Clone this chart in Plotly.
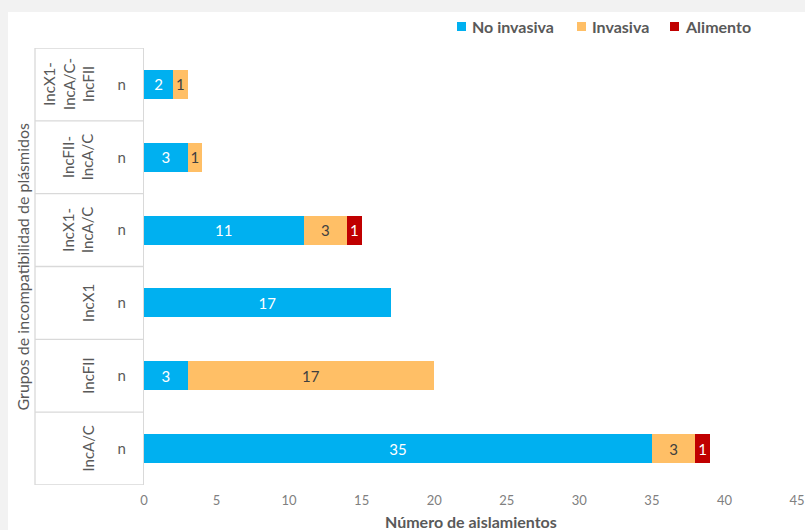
import plotly.graph_objects as go

# Data (bottom to top, as Plotly draws horizontal categories)
groups = ["IncA/C", "IncFII", "IncX1", "IncX1-IncA/C", "IncFII-IncA/C", "IncX1-IncA/C-IncFII"]
group_labels = ["IncA/C", "IncFII", "IncX1", "IncX1-<br>IncA/C", "IncFII-<br>IncA/C", "IncX1-<br>IncA/C-<br>IncFII"]
no_invasiva = [35, 3, 17, 11, 3, 2]
invasiva = [3, 17, None, 3, 1, 1]
alimento = [1, None, None, 1, None, None]
x_ticks = [0, 5, 10, 15, 20, 25, 30, 35, 40, 45]
series_names = ["No invasiva", "Invasiva", "Alimento"]
series_colors = ["#00B0F0", "#FFBF66", "#C00000"]
label_colors = ["white", "#404040", "white"]

FONT = "Lato"
GREY = "#595959"

# Layout geometry (pixels)
W, H = 805, 530
L, R, T, B = 144, 797, 48, 485
pw, ph = R - L, B - T

def px_x(p):
    return (p - L) / pw

def px_y(p):
    return (B - p) / ph

fig = go.Figure()
for name, vals, color, tcol in zip(series_names, [no_invasiva, invasiva, alimento],
                                   series_colors, label_colors):
    fig.add_trace(go.Bar(
        name=name, y=groups, x=vals, orientation="h",
        marker=dict(color=color, line=dict(width=0)),
        text=[str(v) if v else "" for v in vals],
        textposition="inside", insidetextanchor="middle",
        textfont=dict(family=FONT, size=15, color=tcol),
        constraintext="none", cliponaxis=False, showlegend=False,
    ))

shapes = [
    # grey page frame + white chart area
    dict(type="rect", xref="paper", yref="paper", x0=px_x(8), x1=px_x(W + 5),
         y0=px_y(H + 5), y1=px_y(12), fillcolor="white", line=dict(width=0), layer="below"),
    # outer vertical of label table
    dict(type="line", xref="paper", yref="paper", x0=px_x(35), x1=px_x(35),
         y0=0, y1=1, line=dict(color="#D9D9D9", width=1.3)),
]
for i in range(len(groups) + 1):
    yv = i - 0.5
    shapes.append(dict(type="line", xref="paper", yref="y", x0=px_x(35), x1=0,
                       y0=yv, y1=yv, line=dict(color="#D9D9D9", width=1.3)))

annotations = []
for g, lab in zip(groups, group_labels):
    annotations.append(dict(
        xref="paper", yref="y", x=px_x(99), y=g, text=lab, showarrow=False,
        textangle=-90, xanchor="right", yanchor="middle", align="center",
        font=dict(family=FONT, size=15, color=GREY),
    ))
annotations.append(dict(
    xref="paper", yref="paper", x=px_x(22), y=0.5, text="Grupos de incompatibilidad de plásmidos",
    showarrow=False, textangle=-90, xanchor="center", yanchor="middle",
    font=dict(family=FONT, size=16, color=GREY),
))
annotations.append(dict(
    xref="paper", yref="paper", x=0.5, y=px_y(521), text="<b>Número de aislamientos</b>",
    showarrow=False, xanchor="center", yanchor="middle",
    font=dict(family=FONT, size=16, color=GREY),
))

# legend (square swatches + labels)
legend_sq_left = [457, 577, 670]
for name, color, x0 in zip(series_names, series_colors, legend_sq_left):
    shapes.append(dict(type="rect", xref="paper", yref="paper",
                       x0=px_x(x0), x1=px_x(x0 + 9), y0=px_y(31), y1=px_y(22),
                       fillcolor=color, line=dict(width=0)))
    annotations.append(dict(
        xref="paper", yref="paper", x=px_x(x0 + 13), y=px_y(26.5), text="<b>" + name + "</b>",
        showarrow=False, xanchor="left", yanchor="middle",
        font=dict(family=FONT, size=16, color=GREY),
    ))

fig.update_layout(
    width=W, height=H,
    margin=dict(l=L, r=W - R, t=T, b=H - B, pad=0, autoexpand=False),
    paper_bgcolor="#F2F2F2", plot_bgcolor="white",
    barmode="stack", bargap=0.6,
    font=dict(family=FONT, color=GREY),
    showlegend=False,
    xaxis=dict(range=[0, 45], tickvals=x_ticks, showgrid=False, zeroline=False,
               showline=False, ticks="", tickfont=dict(family=FONT, size=13, color="#808080"),
               ticklabelstandoff=6, fixedrange=True),
    yaxis=dict(type="category", categoryorder="array", categoryarray=groups,
               range=[-0.5, len(groups) - 0.5],
               tickvals=groups, ticktext=["n"] * len(groups), showgrid=False, zeroline=False,
               showline=True, linecolor="#D9D9D9", linewidth=1.3, ticks="",
               tickfont=dict(family=FONT, size=15, color=GREY), ticklabelstandoff=14),
    shapes=shapes, annotations=annotations,
)

fig.write_html(
    "out.html",
    config={"displayModeBar": False},
    post_script="document.body.style.margin='0';document.body.style.overflow='hidden';"
                "document.body.style.background='#F2F2F2';",
)
